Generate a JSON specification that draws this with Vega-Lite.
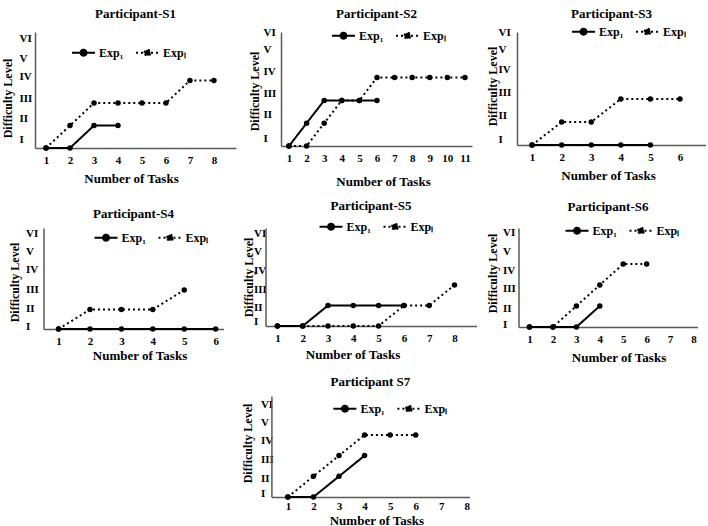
{
  "$schema": "https://vega.github.io/schema/vega-lite/v6.json",
  "padding": {"left": 0, "top": 7, "right": 0, "bottom": 0},
  "background": "white",
  "data": {"values": [
    {"p":"S1","s":"Exp₁","task":1,"level":0},{"p":"S1","s":"Exp₁","task":2,"level":0},{"p":"S1","s":"Exp₁","task":3,"level":1},{"p":"S1","s":"Exp₁","task":4,"level":1},
    {"p":"S1","s":"Expₗ","task":1,"level":0},{"p":"S1","s":"Expₗ","task":2,"level":1},{"p":"S1","s":"Expₗ","task":3,"level":2},{"p":"S1","s":"Expₗ","task":4,"level":2},{"p":"S1","s":"Expₗ","task":5,"level":2},{"p":"S1","s":"Expₗ","task":6,"level":2},{"p":"S1","s":"Expₗ","task":7,"level":3},{"p":"S1","s":"Expₗ","task":8,"level":3},
    {"p":"S2","s":"Exp₁","task":1,"level":0},{"p":"S2","s":"Exp₁","task":2,"level":1},{"p":"S2","s":"Exp₁","task":3,"level":2},{"p":"S2","s":"Exp₁","task":4,"level":2},{"p":"S2","s":"Exp₁","task":5,"level":2},{"p":"S2","s":"Exp₁","task":6,"level":2},
    {"p":"S2","s":"Expₗ","task":1,"level":0},{"p":"S2","s":"Expₗ","task":2,"level":0},{"p":"S2","s":"Expₗ","task":3,"level":1},{"p":"S2","s":"Expₗ","task":4,"level":2},{"p":"S2","s":"Expₗ","task":5,"level":2},{"p":"S2","s":"Expₗ","task":6,"level":3},{"p":"S2","s":"Expₗ","task":7,"level":3},{"p":"S2","s":"Expₗ","task":8,"level":3},{"p":"S2","s":"Expₗ","task":9,"level":3},{"p":"S2","s":"Expₗ","task":10,"level":3},{"p":"S2","s":"Expₗ","task":11,"level":3},
    {"p":"S3","s":"Exp₁","task":1,"level":0},{"p":"S3","s":"Exp₁","task":2,"level":0},{"p":"S3","s":"Exp₁","task":3,"level":0},{"p":"S3","s":"Exp₁","task":4,"level":0},{"p":"S3","s":"Exp₁","task":5,"level":0},
    {"p":"S3","s":"Expₗ","task":1,"level":0},{"p":"S3","s":"Expₗ","task":2,"level":1},{"p":"S3","s":"Expₗ","task":3,"level":1},{"p":"S3","s":"Expₗ","task":4,"level":2},{"p":"S3","s":"Expₗ","task":5,"level":2},{"p":"S3","s":"Expₗ","task":6,"level":2},
    {"p":"S4","s":"Exp₁","task":1,"level":0},{"p":"S4","s":"Exp₁","task":2,"level":0},{"p":"S4","s":"Exp₁","task":3,"level":0},{"p":"S4","s":"Exp₁","task":4,"level":0},{"p":"S4","s":"Exp₁","task":5,"level":0},{"p":"S4","s":"Exp₁","task":6,"level":0},
    {"p":"S4","s":"Expₗ","task":1,"level":0},{"p":"S4","s":"Expₗ","task":2,"level":1},{"p":"S4","s":"Expₗ","task":3,"level":1},{"p":"S4","s":"Expₗ","task":4,"level":1},{"p":"S4","s":"Expₗ","task":5,"level":2},
    {"p":"S5","s":"Exp₁","task":1,"level":0},{"p":"S5","s":"Exp₁","task":2,"level":0},{"p":"S5","s":"Exp₁","task":3,"level":1},{"p":"S5","s":"Exp₁","task":4,"level":1},{"p":"S5","s":"Exp₁","task":5,"level":1},{"p":"S5","s":"Exp₁","task":6,"level":1},
    {"p":"S5","s":"Expₗ","task":1,"level":0},{"p":"S5","s":"Expₗ","task":2,"level":0},{"p":"S5","s":"Expₗ","task":3,"level":0},{"p":"S5","s":"Expₗ","task":4,"level":0},{"p":"S5","s":"Expₗ","task":5,"level":0},{"p":"S5","s":"Expₗ","task":6,"level":1},{"p":"S5","s":"Expₗ","task":7,"level":1},{"p":"S5","s":"Expₗ","task":8,"level":2},
    {"p":"S6","s":"Exp₁","task":1,"level":0},{"p":"S6","s":"Exp₁","task":2,"level":0},{"p":"S6","s":"Exp₁","task":3,"level":0},{"p":"S6","s":"Exp₁","task":4,"level":1},
    {"p":"S6","s":"Expₗ","task":1,"level":0},{"p":"S6","s":"Expₗ","task":2,"level":0},{"p":"S6","s":"Expₗ","task":3,"level":1},{"p":"S6","s":"Expₗ","task":4,"level":2},{"p":"S6","s":"Expₗ","task":5,"level":3},{"p":"S6","s":"Expₗ","task":6,"level":3},
    {"p":"S7","s":"Exp₁","task":1,"level":0},{"p":"S7","s":"Exp₁","task":2,"level":0},{"p":"S7","s":"Exp₁","task":3,"level":1},{"p":"S7","s":"Exp₁","task":4,"level":2},
    {"p":"S7","s":"Expₗ","task":1,"level":0},{"p":"S7","s":"Expₗ","task":2,"level":1},{"p":"S7","s":"Expₗ","task":3,"level":2},{"p":"S7","s":"Expₗ","task":4,"level":3},{"p":"S7","s":"Expₗ","task":5,"level":3},{"p":"S7","s":"Expₗ","task":6,"level":3}
  ]},
  "spacing": 12,
  "center": true,
  "resolve": {"scale": {"strokeDash": "independent"}, "legend": {"strokeDash": "independent"}},
  "vconcat": [
    {
      "spacing": 45, "bounds": "flush",
      "resolve": {"scale": {"strokeDash": "independent"}, "legend": {"strokeDash": "independent"}},
      "hconcat": [
        {
          "title": {"text": "Participant-S1", "offset": 11.5},
          "width": 201, "height": 116,
          "transform": [{"filter": "datum.p == 'S1'"}],
          "mark": {"type": "line", "color": "black", "strokeWidth": 2, "point": {"filled": true, "size": 30, "color": "black"}},
          "encoding": {
            "x": {"field": "task", "type": "quantitative", "scale": {"domain": [0.54, 8.92], "nice": false, "zero": false},
                  "axis": {"values": [1,2,3,4,5,6,7,8], "title": "Number of Tasks", "titleX": 96, "titleY": 30}},
            "y": {"field": "level", "type": "quantitative", "scale": {"domain": [0, 5.16], "nice": false},
                  "axis": {"values": [0.4,1.33,2.22,3.2,4.0,4.89], "labelExpr": "['I','II','III','IV','V','VI'][round(datum.index*5)]", "labelPadding": 16, "title": "Difficulty Level", "titleX": -28, "titleY": 66}},
            "strokeDash": {"field": "s", "type": "nominal", "scale": {"domain": ["Exp₁","Expₗ"], "range": [[1,0],[2,3]]},
                  "legend": {"title": null, "legendX": 36, "legendY": 8, "encode": {"symbols": {"update": {"stroke": {"value": "black"}, "strokeWidth": {"value": 2}, "fill": {"value": "black"}}}}}}
          }
        },
        {
          "title": {"text": "Participant-S2", "offset": 2.5},
          "width": 191, "height": 114,
          "transform": [{"filter": "datum.p == 'S2'"}],
          "mark": {"type": "line", "color": "black", "strokeWidth": 2, "point": {"filled": true, "size": 30, "color": "black"}},
          "encoding": {
            "x": {"field": "task", "type": "quantitative", "scale": {"domain": [0.545, 11.4], "nice": false, "zero": false},
                  "axis": {"values": [1,2,3,4,5,6,7,8,9,10,11], "title": "Number of Tasks", "titleX": 102, "titleY": 35}},
            "y": {"field": "level", "type": "quantitative", "scale": {"domain": [0, 5.0], "nice": false},
                  "axis": {"values": [0.35,1.4,2.32,3.25,4.25,4.98], "labelExpr": "['I','II','III','IV','V','VI'][round(datum.index*5)]", "labelPadding": 18, "title": "Difficulty Level", "titleX": -27, "titleY": 59}},
            "strokeDash": {"field": "s", "type": "nominal", "scale": {"domain": ["Exp₁","Expₗ"], "range": [[1,0],[2,3]]},
                  "legend": {"title": null, "legendX": 50, "legendY": -9, "encode": {"symbols": {"update": {"stroke": {"value": "black"}, "strokeWidth": {"value": 2}, "fill": {"value": "black"}}}}}}
          }
        },
        {
          "title": {"text": "Participant-S3", "offset": -1.5},
          "width": 189, "height": 113,
          "transform": [{"filter": "datum.p == 'S3'"}],
          "mark": {"type": "line", "color": "black", "strokeWidth": 2, "point": {"filled": true, "size": 30, "color": "black"}},
          "encoding": {
            "x": {"field": "task", "type": "quantitative", "scale": {"domain": [0.49, 6.88], "nice": false, "zero": false},
                  "axis": {"values": [1,2,3,4,5,6], "title": "Number of Tasks", "titleX": 91, "titleY": 30}},
            "y": {"field": "level", "type": "quantitative", "scale": {"domain": [0, 4.91], "nice": false},
                  "axis": {"values": [0.26,1.3,2.26,3.26,4.13,4.9], "labelExpr": "['I','II','III','IV','V','VI'][round(datum.index*5)]", "labelPadding": 19, "title": "Difficulty Level", "titleX": -25, "titleY": 54}},
            "strokeDash": {"field": "s", "type": "nominal", "scale": {"domain": ["Exp₁","Expₗ"], "range": [[1,0],[2,3]]},
                  "legend": {"title": null, "legendX": 54, "legendY": -13, "encode": {"symbols": {"update": {"stroke": {"value": "black"}, "strokeWidth": {"value": 2}, "fill": {"value": "black"}}}}}}
          }
        }
      ]
    },
    {
      "spacing": 42, "bounds": "flush",
      "resolve": {"scale": {"strokeDash": "independent"}, "legend": {"strokeDash": "independent"}},
      "hconcat": [
        {
          "title": {"text": "Participant-S4", "offset": 4},
          "width": 180, "height": 101,
          "transform": [{"filter": "datum.p == 'S4'"}],
          "mark": {"type": "line", "color": "black", "strokeWidth": 2, "point": {"filled": true, "size": 30, "color": "black"}},
          "encoding": {
            "x": {"field": "task", "type": "quantitative", "scale": {"domain": [0.52, 6.25], "nice": false, "zero": false},
                  "axis": {"values": [1,2,3,4,5,6], "title": "Number of Tasks", "titleX": 96, "titleY": 26}},
            "y": {"field": "level", "type": "quantitative", "scale": {"domain": [0, 5.18], "nice": false},
                  "axis": {"values": [0.15,1.03,2.05,3.03,4.0,4.92], "labelExpr": "['I','II','III','IV','V','VI'][round(datum.index*5)]", "labelPadding": 18, "title": "Difficulty Level", "titleX": -29, "titleY": 54}},
            "strokeDash": {"field": "s", "type": "nominal", "scale": {"domain": ["Exp₁","Expₗ"], "range": [[1,0],[2,3]]},
                  "legend": {"title": null, "legendX": 50, "legendY": -3, "encode": {"symbols": {"update": {"stroke": {"value": "black"}, "strokeWidth": {"value": 2}, "fill": {"value": "black"}}}}}}
          }
        },
        {
          "title": {"text": "Participant-S5", "offset": 1},
          "width": 211, "height": 98,
          "transform": [{"filter": "datum.p == 'S5'"}],
          "mark": {"type": "line", "color": "black", "strokeWidth": 2, "point": {"filled": true, "size": 30, "color": "black"}},
          "encoding": {
            "x": {"field": "task", "type": "quantitative", "scale": {"domain": [0.53, 8.87], "nice": false, "zero": false},
                  "axis": {"values": [1,2,3,4,5,6,7,8], "title": "Number of Tasks", "titleX": 87, "titleY": 28}},
            "y": {"field": "level", "type": "quantitative", "scale": {"domain": [0, 4.78], "nice": false},
                  "axis": {"values": [0.2,0.88,1.8,2.73,3.61,4.49], "labelExpr": "['I','II','III','IV','V','VI'][round(datum.index*5)]", "labelPadding": 12, "title": "Difficulty Level", "titleX": -17, "titleY": 49}},
            "strokeDash": {"field": "s", "type": "nominal", "scale": {"domain": ["Exp₁","Expₗ"], "range": [[1,0],[2,3]]},
                  "legend": {"title": null, "legendX": 53, "legendY": -14, "encode": {"symbols": {"update": {"stroke": {"value": "black"}, "strokeWidth": {"value": 2}, "fill": {"value": "black"}}}}}}
          }
        },
        {
          "title": {"text": "Participant-S6", "offset": 4},
          "width": 179, "height": 99,
          "transform": [{"filter": "datum.p == 'S6'"}],
          "mark": {"type": "line", "color": "black", "strokeWidth": 2, "point": {"filled": true, "size": 30, "color": "black"}},
          "encoding": {
            "x": {"field": "task", "type": "quantitative", "scale": {"domain": [0.53, 8.17], "nice": false, "zero": false},
                  "axis": {"values": [1,2,3,4,5,6,7,8], "title": "Number of Tasks", "titleX": 100, "titleY": 30}},
            "y": {"field": "level", "type": "quantitative", "scale": {"domain": [0, 4.71], "nice": false},
                  "axis": {"values": [0.1,0.86,1.81,2.71,3.57,4.48], "labelExpr": "['I','II','III','IV','V','VI'][round(datum.index*5)]", "labelPadding": 16, "title": "Difficulty Level", "titleX": -26, "titleY": 45}},
            "strokeDash": {"field": "s", "type": "nominal", "scale": {"domain": ["Exp₁","Expₗ"], "range": [[1,0],[2,3]]},
                  "legend": {"title": null, "legendX": 46, "legendY": -10, "encode": {"symbols": {"update": {"stroke": {"value": "black"}, "strokeWidth": {"value": 2}, "fill": {"value": "black"}}}}}}
          }
        }
      ]
    },
    {
      "title": {"text": "Participant S7", "offset": 7},
      "width": 198, "height": 101,
      "transform": [{"filter": "datum.p == 'S7'"}],
      "mark": {"type": "line", "color": "black", "strokeWidth": 2, "point": {"filled": true, "size": 30, "color": "black"}},
      "encoding": {
        "x": {"field": "task", "type": "quantitative", "scale": {"domain": [0.355, 8.1], "nice": false, "zero": false},
              "axis": {"values": [1,2,3,4,5,6,7,8], "title": "Number of Tasks", "titleX": 105, "titleY": 23, "labelPadding": 3}},
        "y": {"field": "level", "type": "quantitative", "scale": {"domain": [0, 4.88], "nice": false},
              "axis": {"values": [0.19,0.87,1.79,2.75,3.62,4.49], "labelExpr": "['I','II','III','IV','V','VI'][round(datum.index*5)]", "labelPadding": 11, "title": "Difficulty Level", "titleX": -24, "titleY": 47}},
        "strokeDash": {"field": "s", "type": "nominal", "scale": {"domain": ["Exp₁","Expₗ"], "range": [[1,0],[2,3]]},
              "legend": {"title": null, "legendX": 61, "legendY": 0, "encode": {"symbols": {"update": {"stroke": {"value": "black"}, "strokeWidth": {"value": 2}, "fill": {"value": "black"}}}}}}
      }
    }
  ],
  "config": {
    "font": "Liberation Serif",
    "view": {"stroke": null},
    "title": {"font": "Liberation Serif", "fontSize": 13, "fontWeight": "bold", "color": "black", "anchor": "middle"},
    "axis": {
      "domainColor": "#595959", "domainWidth": 1.5, "ticks": false, "tickSize": 0, "grid": false,
      "labelFont": "Liberation Serif", "labelFontWeight": "bold", "labelFontSize": 11, "labelColor": "black",
      "labelOverlap": false, "labelFlush": false, "labelBound": false,
      "titleFont": "Liberation Serif", "titleFontWeight": "bold", "titleFontSize": 13, "titleColor": "black",
      "titleBaseline": "middle"
    },
    "axisX": {"labelPadding": 6},
    "axisY": {"labelAlign": "left", "labelBaseline": "middle", "titleFontSize": 12},
    "legend": {
      "orient": "none", "direction": "horizontal", "columns": 2, "padding": 0, "offset": 0,
      "columnPadding": 8, "labelOffset": 3,
      "labelFont": "Liberation Serif", "labelFontSize": 12, "labelFontWeight": "bold", "labelColor": "black",
      "symbolType": "M-1,0L1,0M-0.26,0C-0.26,-0.1436,-0.1436,-0.26,0,-0.26C0.1436,-0.26,0.26,-0.1436,0.26,0C0.26,0.1436,0.1436,0.26,0,0.26C-0.1436,0.26,-0.26,0.1436,-0.26,0Z",
      "symbolSize": 529, "symbolStrokeWidth": 2, "symbolFillColor": "black", "symbolStrokeColor": "black"
    }
  }
}
